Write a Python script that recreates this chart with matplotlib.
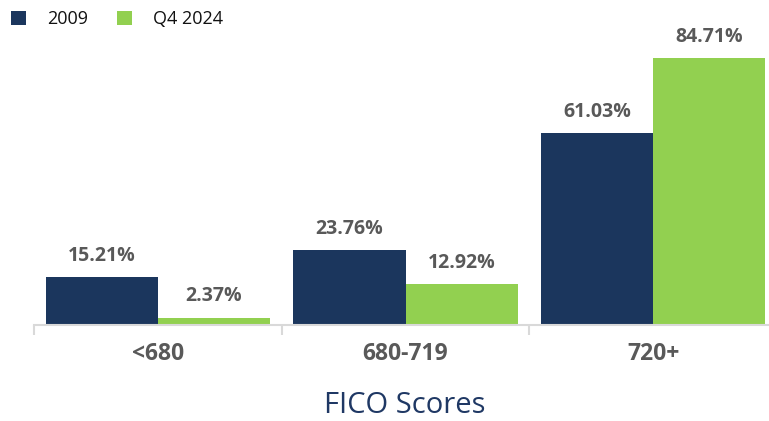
import numpy as np
import matplotlib.pyplot as plt

# FICO score buckets, share of originations
categories = ["<680", "680-719", "720+"]
series_names = ["2009", "Q4 2024"]
vals_2009 = [15.21, 23.76, 61.03]
vals_2024 = [2.37, 12.92, 84.71]

navy = "#1b365d"
green = "#92d050"
grey = "#595959"

plt.rcParams['font.family'] = ['Open Sans', 'DejaVu Sans']

fig = plt.figure(figsize=(7.69, 4.21), dpi=100)
ax = fig.add_axes([34 / 769, 96 / 421, 743 / 769, 325 / 421])

x = np.arange(len(categories))
w = 0.4535
b1 = ax.bar(x - w / 2, vals_2009, w, color=navy, label=series_names[0])
b2 = ax.bar(x + w / 2, vals_2024, w, color=green, label=series_names[1])

for bars in (b1, b2):
    for rect in bars:
        h = rect.get_height()
        ax.annotate(f"{h:.2f}%", (rect.get_x() + rect.get_width() / 2, h),
                    xytext=(0, 8), textcoords="offset points",
                    ha="center", va="bottom", fontsize=14,
                    fontweight="bold", color=grey)

ax.set_xlim(-0.5, 2.5)
ax.set_ylim(0, 103.2)
ax.set_yticks([])
for s in ["top", "right", "left"]:
    ax.spines[s].set_visible(False)
ax.spines["bottom"].set_color("#d9d9d9")
ax.spines["bottom"].set_linewidth(1.5)

ax.set_xticks(x)
ax.set_xticklabels(categories, fontsize=16.5, fontweight="bold", color=grey)
ax.tick_params(axis="x", which="major", length=0, pad=12)
ax.set_xticks([-0.5, 0.5, 1.5, 2.5], minor=True)
ax.tick_params(axis="x", which="minor", length=7, width=1.5, color="#d9d9d9")

# axis title sits near the bottom edge
fig.text(405 / 769, 1 / 421, "FICO Scores", fontsize=21, color="#1f3864",
         ha="center", va="bottom")

ax.legend(loc="center left", bbox_to_anchor=(11 / 769, 1 - 19 / 421),
          bbox_transform=fig.transFigure, borderpad=0, borderaxespad=0,
          ncol=2, frameon=False, handlelength=0.85, handleheight=0.85,
          handletextpad=1.15, columnspacing=1.6, fontsize=13,
          labelcolor="#111111")

fig.savefig("out.png", dpi=100)
